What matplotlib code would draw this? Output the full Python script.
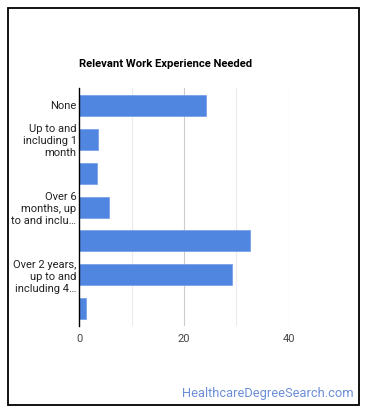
import matplotlib.pyplot as plt
from matplotlib.patches import Rectangle

plt.rcParams['font.family'] = ['Roboto', 'DejaVu Sans']

categories = ['None',
              'Up to and including 1 month',
              'Over 1 month, up to and including 3 months',
              'Over 6 months, up to and including 1 year',
              'Over 1 year, up to and including 2 years',
              'Over 2 years, up to and including 4 years',
              'Over 4 years, up to and including 10 years']
tick_labels = ['None',
               'Up to and\nincluding 1\nmonth',
               '',
               'Over 6\nmonths, up\nto and inclu\u2026',
               '',
               'Over 2 years,\nup to and\nincluding 4\u2026',
               '']
values = [24.3, 3.6, 3.3, 5.7, 32.7, 29.1, 1.3]

fig = plt.figure(figsize=(3.7, 4.17), dpi=100)
ax = fig.add_axes([0.2144, 0.219, 0.5656, 0.569])

pos = list(range(len(categories)))
ax.barh(pos, values, height=0.62, color='#5085e0', edgecolor='#7aa2ea', linewidth=0.6, zorder=2)
ax.set_ylim(len(categories) - 0.5, -0.5)
ax.set_xlim(0, 40)

# major and minor grid lines
for x in [10, 30]:
    ax.axvline(x, color='#ebebeb', linewidth=0.8, zorder=1)
for x in [20, 40]:
    ax.axvline(x, color='#cccccc', linewidth=0.8, zorder=1)

ax.tick_params(axis='both', length=0, labelsize=8, labelcolor='#222222')
ax.tick_params(axis='x', pad=6, labelcolor='#444444')
ax.tick_params(axis='y', pad=2)
ax.set_xticks([0, 20, 40])
ax.set_xticklabels(['0', '20', '40'])
ax.set_yticks(pos)
ax.set_yticklabels(tick_labels, linespacing=1.26, multialignment='right')
for s in ['top', 'right', 'bottom']:
    ax.spines[s].set_visible(False)
ax.spines['left'].set_color('#000000')
ax.spines['left'].set_linewidth(1.0)
ax.spines['left'].set_zorder(3)

fig.text(79 / 370, 1 - 64 / 417, 'Relevant Work Experience Needed', fontsize=8.1,
         fontweight='bold', ha='left', va='center', color='#000000')
fig.text(354 / 370, 1 - 394 / 417, 'HealthcareDegreeSearch.com', fontsize=9.3,
         ha='right', va='center', color='#6c8ed6')

fig.patches.append(Rectangle((8 / 370, 1 - 405 / 417), 351 / 370, 397 / 417,
                             transform=fig.transFigure, fill=False,
                             edgecolor='#000000', linewidth=1.3))

fig.savefig('out.png', dpi=100)
